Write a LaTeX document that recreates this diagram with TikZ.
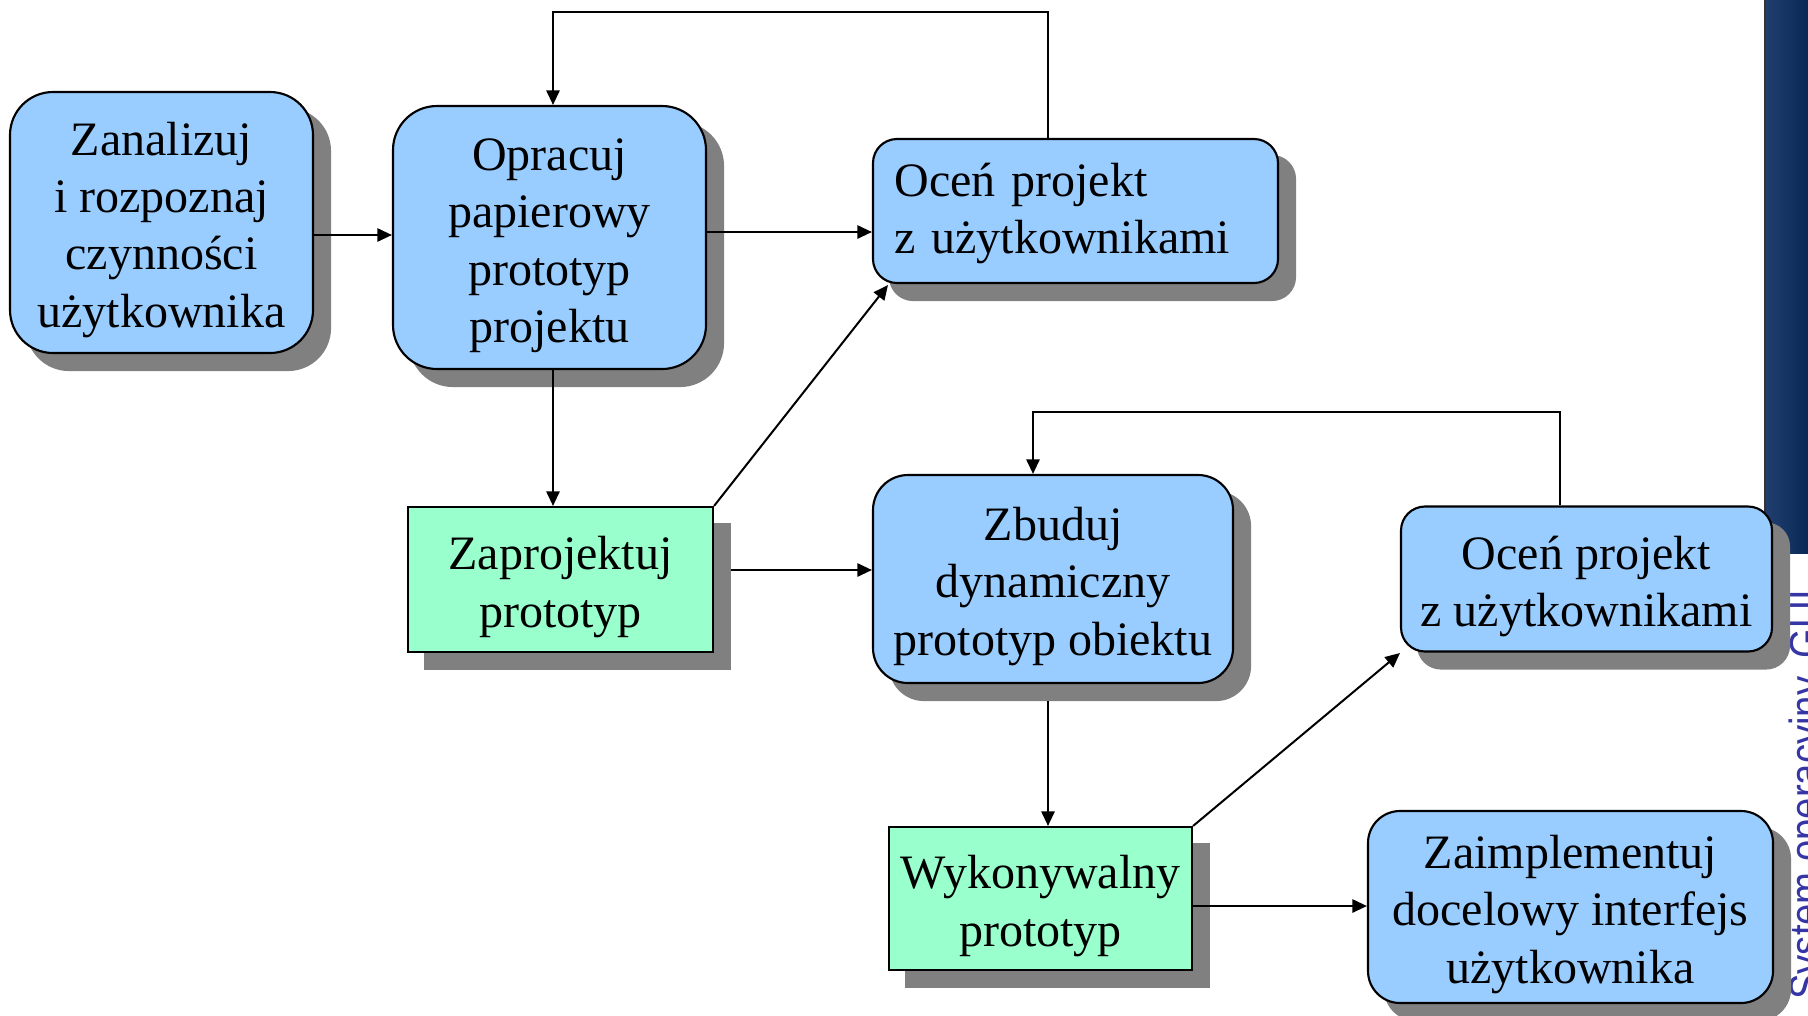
\documentclass[tikz,border=0pt]{standalone}
\usepackage{fontspec}
\setmainfont{Liberation Serif}
\newfontfamily\sysfont{Liberation Sans}
\usetikzlibrary{arrows.meta,calc}
\pgfdeclarelayer{back}
\pgfdeclarelayer{bg}
\pgfsetlayers{back,bg,main}
\definecolor{boxblue}{HTML}{99CCFF}
\definecolor{boxgreen}{HTML}{99FFCC}
\definecolor{shadowc}{HTML}{808080}
\definecolor{sysblue}{HTML}{3535A5}
\definecolor{barl}{HTML}{1F3F6F}
\definecolor{barr}{HTML}{0A2855}
\newcommand\firstln{\rule{0pt}{36pt}}
\newcommand\firstlnl{\rule{0pt}{28.5pt}}
\begin{document}
\begin{tikzpicture}[x=0.75pt,y=-0.75pt,
  pbox/.style={draw=black, line width=1.6pt, inner sep=0pt, align=center,
    font=\fontsize{36}{43}\selectfont},
  conn/.style={line width=1.5pt, -{Triangle[length=11pt,width=10pt]}},
  shadowbox/.style={fill=shadowc}
]
\useasboundingbox (0,0) rectangle (1808,1015);
\clip (0,0) rectangle (1808,1015);

% right bar and side text
\begin{pgfonlayer}{back}
  \shade[left color=barl, right color=barr] (1765,0) rectangle (1808,553);
  \draw[line width=1.2pt, black!80] (1765,0) -- (1765,553);
  \node[rotate=90, anchor=north west, inner sep=0pt,
        font=\sysfont\fontsize{33.75}{33.75}\selectfont, text=sysblue] (sys) at (1789,1000) {\scalebox{0.85}[1]{System operacyjny, GUI}};
\end{pgfonlayer}

% boxes
\node[pbox, fill=boxblue, rounded corners=32.25pt, minimum width=227.25pt, minimum height=195.75pt]
  (zan) at (161.5,222.5) {\firstln Zanalizuj\\i rozpoznaj\\czynności\\użytkownika};
\node[pbox, fill=boxblue, rounded corners=33pt, minimum width=234.75pt, minimum height=197.25pt]
  (opr) at (549.5,237.5) {\firstln Opracuj\\papierowy\\prototyp\\projektu};
\node[pbox, fill=boxblue, rounded corners=18pt, align=left, text width=271.75pt, inner xsep=16pt, minimum height=108pt]
  (ocen1) at (1075.5,211) {\firstlnl Oceń projekt\\z użytkownikami};
\node[pbox, fill=boxgreen, minimum width=228.75pt, minimum height=108.75pt]
  (zap) at (560.5,579.5) {\firstln Zaprojektuj\\prototyp};
\node[pbox, fill=boxblue, rounded corners=26.25pt, minimum width=270pt, minimum height=156pt]
  (zbu) at (1053,579) {\firstln Zbuduj\\dynamiczny\\prototyp obiektu};
\node[pbox, fill=boxblue, rounded corners=18pt, minimum width=278.25pt, minimum height=108.75pt]
  (ocen2) at (1586.5,579) {\firstln Oceń projekt\\z użytkownikami};
\node[pbox, fill=boxgreen, minimum width=227.25pt, minimum height=107.25pt]
  (wyk) at (1040.5,898.5) {\firstln Wykonywalny\\prototyp};
\node[pbox, fill=boxblue, rounded corners=24pt, minimum width=303.75pt, minimum height=144pt]
  (zai) at (1570.5,907) {\firstln Zaimplementuj\\docelowy interfejs\\użytkownika};

% shadows
\begin{pgfonlayer}{bg}
  \fill[shadowbox, rounded corners=32.25pt] ([shift={(12.75pt,-12.75pt)}]zan.north west) rectangle ([shift={(12.75pt,-12.75pt)}]zan.south east);
  \fill[shadowbox, rounded corners=33pt] ([shift={(12.75pt,-12.75pt)}]opr.north west) rectangle ([shift={(12.75pt,-12.75pt)}]opr.south east);
  \fill[shadowbox, rounded corners=18pt] ([shift={(12.75pt,-12.75pt)}]ocen1.north west) rectangle ([shift={(12.75pt,-12.75pt)}]ocen1.south east);
  \fill[shadowbox] ([shift={(12.75pt,-12.75pt)}]zap.north west) rectangle ([shift={(12.75pt,-12.75pt)}]zap.south east);
  \fill[shadowbox, rounded corners=26.25pt] ([shift={(12.75pt,-12.75pt)}]zbu.north west) rectangle ([shift={(12.75pt,-12.75pt)}]zbu.south east);
  \fill[shadowbox, rounded corners=18pt] ([shift={(12.75pt,-12.75pt)}]ocen2.north west) rectangle ([shift={(12.75pt,-12.75pt)}]ocen2.south east);
  \fill[shadowbox] ([shift={(12.75pt,-12.75pt)}]wyk.north west) rectangle ([shift={(12.75pt,-12.75pt)}]wyk.south east);
  \fill[shadowbox, rounded corners=24pt] ([shift={(12.75pt,-12.75pt)}]zai.north west) rectangle ([shift={(12.75pt,-12.75pt)}]zai.south east);
\end{pgfonlayer}

% helper coordinates
\coordinate (h1) at (0,235);
\coordinate (h2) at (0,232);
\coordinate (f1a) at (1048,12);
\coordinate (f1b) at (553,12);
\coordinate (t1) at (888,285);
\coordinate (h3) at (0,570);
\coordinate (f2a) at (1560,412);
\coordinate (f2b) at (1033,412);
\coordinate (v2) at (1048,0);
\coordinate (t2) at (1400,653);
\coordinate (h4) at (0,906);

% connectors
\draw[conn] (zan.east |- h1) -- (opr.west |- h1);
\draw[conn] (opr.east |- h2) -- (ocen1.west |- h2);
\draw[conn] (ocen1.north -| f1a) -- (f1a) -- (f1b) -- (opr.north -| f1b);
\draw[conn] (opr.south -| f1b) -- (zap.north -| f1b);
\draw[conn] (zap.north east) -- (t1);
\draw[conn] ([xshift=12.75pt]zap.east |- h3) -- (zbu.west |- h3);
\draw[conn] (ocen2.north -| f2a) -- (f2a) -- (f2b) -- (zbu.north -| f2b);
\draw[conn] ([yshift=-12.75pt]zbu.south -| v2) -- (wyk.north -| v2);
\draw[conn] (wyk.north east) -- (t2);
\draw[conn] (wyk.east |- h4) -- (zai.west |- h4);
\end{tikzpicture}
\end{document}
